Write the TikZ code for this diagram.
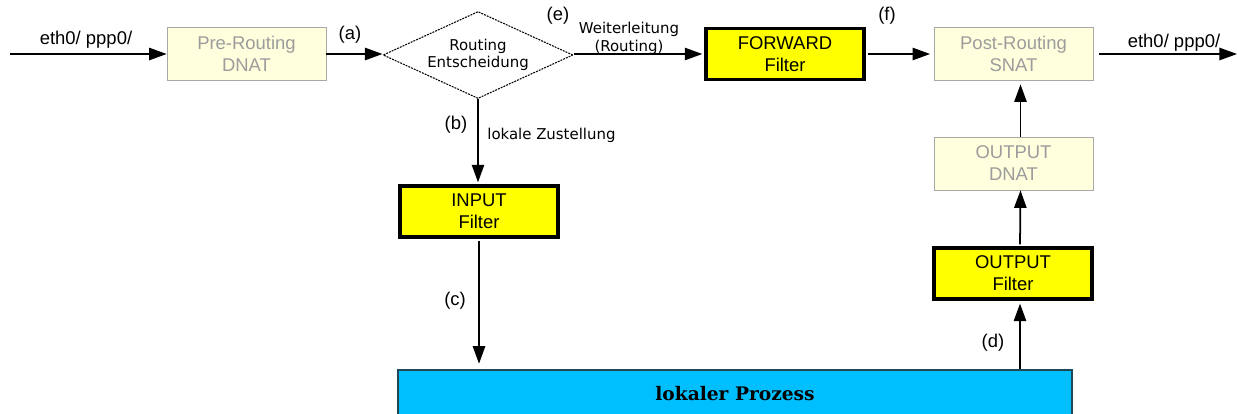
\documentclass[tikz,border=0pt]{standalone}
\usepackage{fontspec}
\setmainfont{Liberation Sans}
\newfontfamily\dejavusans{DejaVu Sans}
\newfontfamily\dejavuserif{DejaVu Serif}
\usepackage{tikz}
\usetikzlibrary{shapes.geometric, arrows.meta, positioning}
\definecolor{natfill}{HTML}{FFFFDD}
\definecolor{natdraw}{HTML}{A8A8A8}
\definecolor{nattext}{HTML}{9C9C9C}
\definecolor{filteryellow}{HTML}{FFFF00}
\definecolor{procblue}{HTML}{00BFFF}
\definecolor{procdraw}{HTML}{204858}

\begin{document}
\begin{tikzpicture}[x=0.02cm, y=-0.02cm, font=\fontsize{10.5}{12.5}\selectfont]
        % Styles
        \tikzstyle{natbox} = [draw=natdraw, fill=natfill, text=nattext, rectangle, minimum width=3.18cm, minimum height=1.06cm, align=center, inner sep=0pt]
        \tikzstyle{filterbox} = [draw, line width=2.2pt, fill=filteryellow, rectangle, minimum width=3.16cm, minimum height=1.02cm, align=center, inner sep=0pt]
        \tikzstyle{decision} = [diamond, draw, line width=0.6pt, dash pattern=on 1.1pt off 0.6pt, aspect=2.2, minimum width=3.8cm, minimum height=1.74cm, inner sep=0pt, align=center, font=\dejavusans\fontsize{8.5}{9.8}\selectfont]
        \tikzstyle{smalllabel} = [align=center, inner sep=0pt, font=\dejavusans\fontsize{8.5}{10.2}\selectfont]
        \tikzstyle{arrow} = [-{Triangle[length=10pt, width=7pt]}, line width=1pt]

        \useasboundingbox (0,0) rectangle (1237,413);
        \clip (0,0) rectangle (1237,413);

        % Nodes
        \coordinate (in) at (10,54);
        \node [natbox] (pre) at (246.5,54) {Pre-Routing\\DNAT};
        \node [decision] (diam) at (478,55) {Routing\\Entscheidung};
        \node [filterbox] (fwd) at (785,54) {FORWARD\\Filter};
        \node [natbox] (post) at (1013.5,54) {Post-Routing\\SNAT};
        \coordinate (out) at (1237,54);
        \node [filterbox] (input) at (479,211.5) {INPUT\\Filter};
        \node [natbox] (odnat) at (1013.5,163.5) {OUTPUT\\DNAT};
        \node [filterbox] (ofilt) at (1013,273.5) {OUTPUT\\Filter};
        \node [draw=procdraw, line width=1pt, fill=procblue, rectangle, anchor=north, minimum width=13.48cm, minimum height=0.96cm,
               font=\dejavuserif\bfseries\fontsize{10.6}{12}\selectfont] (proc) at (735,369) {lokaler Prozess};

        % Arrows
        \draw [arrow] (in) -- (pre.west);
        \draw [arrow] (pre.east) -- (pre.east -| diam.west);
        \draw [arrow, shorten >=1pt] (diam.east |- fwd.west) -- (fwd.west);
        \draw [arrow, shorten >=2pt, shorten <=1pt] (fwd.east) -- (post.west);
        \draw [arrow, shorten <=3pt] (post.east) -- (out);
        \draw [arrow, shorten >=1pt] (diam.south) -- (diam.south |- input.north);
        \draw [arrow, shorten >=3pt, shorten <=1pt] (input.south) -- (input.south |- proc.north);
        \draw [arrow, shorten >=1.5pt] ([xshift=0.14cm]ofilt.south |- proc.north) -- ([xshift=0.14cm]ofilt.south);
        \draw [arrow, shorten <=1pt] ([xshift=0.14cm]ofilt.north) -- ([xshift=0.14cm]odnat.south);
        \draw [arrow, shorten >=2pt] ([xshift=0.14cm]odnat.north) -- ([xshift=0.14cm]post.south);

        % Labels
        \node (ethin) at (86,40) {eth0/ ppp0/};
        \node (lbla) at (350,35) {(a)};
        \node (lble) at (558,16) {(e)};
        \node [smalllabel] (weiter) at (629,38) {Weiterleitung\\(Routing)};
        \node (lblf) at (887,16) {(f)};
        \node (ethout) at (1174,43) {eth0/ ppp0/};
        \node (lblb) at (456,125) {(b)};
        \node [smalllabel, anchor=west] (zust) at (487,135) {lokale Zustellung};
        \node (lblc) at (455,301) {(c)};
        \node (lbld) at (993,343) {(d)};
    \end{tikzpicture}
\end{document}
